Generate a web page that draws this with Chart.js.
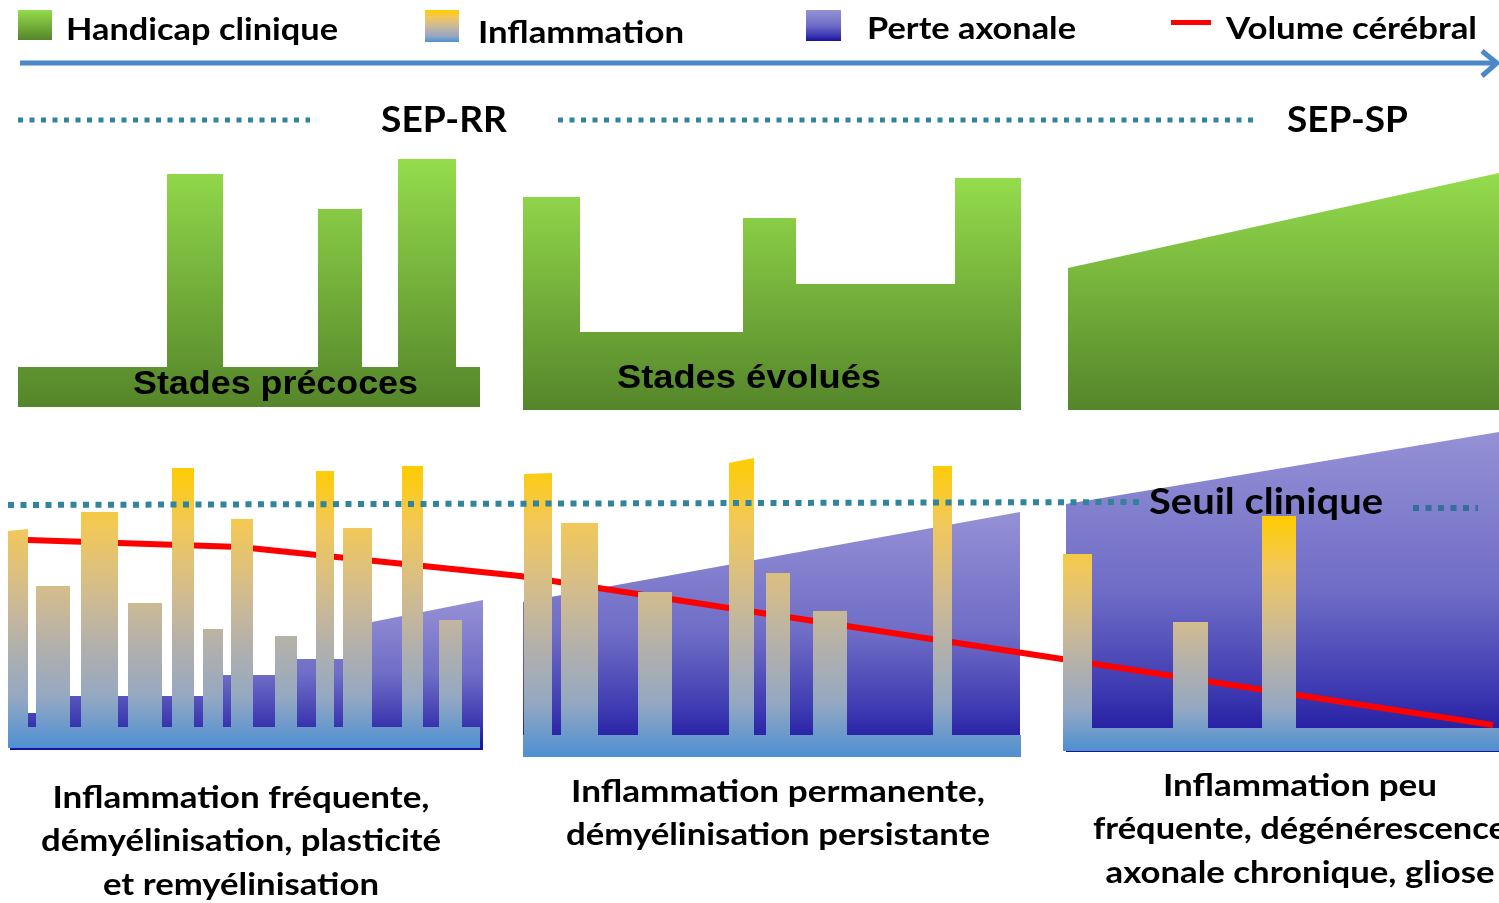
<!DOCTYPE html>
<html lang="fr">
<head>
<meta charset="utf-8">
<title>SEP - évolution</title>
<script src="https://cdn.jsdelivr.net/npm/chart.js@4.4.1/dist/chart.umd.min.js"></script>
<style>
  html, body { margin: 0; padding: 0; background: #fff; overflow: hidden; }
  canvas { display: block; }
</style>
</head>
<body>
<canvas id="sep-chart" width="1499" height="903"></canvas>
<script>
// --- DATA (diagram units: x = course of the disease, y = depth from the top) ---

// Handicap clinique: [left, right, top] steps standing on each stage's base level
const handicapEarly = [[167, 223, 174], [318, 362, 209], [398, 456, 159]];
const handicapLate = [[523, 580, 197], [743, 796, 218], [796, 955, 284], [955, 1021, 178]];
const handicapProgressive = [[1068, 1499, [268, 173]]];
const handicapSpan = [[18, 480], [523, 1021], [1068, 1499]];
const handicapBase = [367, 332, 410];
const handicapFloor = [407, 410, 410];

// Inflammation: bars [left, right, top] (top as [left, right] where it is slanted)
const inflammationEarly = [
  [8, 28, [531, 529]], [36, 70, 586], [81, 118, 512], [128, 162, 603],
  [172, 194, 468], [203, 223, 629], [231, 253, 519], [275, 297, 636],
  [316, 334, 471], [343, 372, 528], [402, 423, 466], [439, 462, 620]
];
const inflammationLate = [
  [524, 552, [474, 473]], [561, 598, 523], [638, 672, 592], [729, 754, [463, 458]],
  [766, 790, 573], [813, 847, 611], [933, 952, 466]
];
const inflammationProgressive = [[1063, 1092, 554], [1173, 1208, 622], [1262, 1296, 516]];
const inflammationSpan = [[8, 480], [523, 1021], [1063, 1499]];
const inflammationBase = [727, 735, 728];
const inflammationFloor = [748, 757, 751];

// Perte axonale: steps, then a rising ramp
const axonalEarly = [[52, 215, 696], [215, 287, 675], [287, 372, 659], [372, 483, [622, 600]]];
const axonalLate = [[523, 1020, [602, 512]]];
const axonalProgressive = [[1066, 1499, [504, 432]]];
const axonalSpan = [[10, 483], [523, 1020], [1066, 1499]];
const axonalBase = [713, null, null];
const axonalFloor = [750, 757, 752];

// Volume cérébral
const brainVolumeX = [28, 240, 520, 1493];
const brainVolumeY = [540, 547, 576, 725];

// Seuil clinique (dotted threshold)
const thresholdX = [8, 1142];
const thresholdY = [505, 502];
const thresholdTailX = [1413, 1478];
const thresholdTailY = [508, 508];

// Time axis and phase lines
const timeAxisX = [20, 1494];
const timeAxisY = 63;
const arrowHeadX = [1482, 1497, 1482];
const arrowHeadY = [51, 63, 76];
const phaseLines = [[18, 310], [558, 1258]];
const phaseLineY = 120;

// Texts
const legendLabels = ['Handicap clinique', 'Inflammation', 'Perte axonale', 'Volume cérébral'];
const phaseLabels = ['SEP-RR', 'SEP-SP'];
const stageLabels = ['Stades précoces', 'Stades évolués'];
const thresholdLabel = 'Seuil clinique';
const stageNotes = [
  ['Inflammation fréquente,', 'démyélinisation, plasticité', 'et remyélinisation'],
  ['Inflammation permanente,', 'démyélinisation persistante'],
  ['Inflammation peu', 'fréquente, dégénérescence', 'axonale chronique, gliose']
];

// --- COLOURS ---
const GREEN_STOPS = [[0, '#94dc4c'], [1, '#55852a']];
const INFLAM_STOPS = [[0, '#ffcc00'], [0.22, '#f2c85a'], [0.45, '#d2bc8e'], [0.64, '#b2b0ac'], [0.82, '#94a8c2'], [1, '#4e8fd2']];
const AXONAL_STOPS = [[0, '#9591d5'], [0.5, '#6e6cc6'], [0.8, '#3f3bb2'], [1, '#19119d']];
const TEAL = '#31849b';
const AXIS_BLUE = '#4a88c8';

// --- HELPERS ---

// turn [left, right, top] pieces into an outline running along the base level
function barsOutline(span, base, bars) {
  const pts = [];
  let last = span[0];
  const push = (x0, x1, top) => {
    const [a, b] = Array.isArray(top) ? top : [top, top];
    pts.push({ x: x0, y: a }, { x: x1, y: b });
  };
  bars.forEach(([l, r, top]) => {
    if (l > last) push(last, l, base);
    push(l, r, top);
    last = r;
  });
  if (span[1] > last) push(last, span[1], base);
  return pts;
}

function verticalGradient(stops, top, bottom) {
  return (context) => {
    const chart = context.chart;
    const y = chart.scales && chart.scales.y;
    const y0 = y ? y.getPixelForValue(top) : NaN;
    const y1 = y ? y.getPixelForValue(bottom) : NaN;
    if (!isFinite(y0) || !isFinite(y1)) return stops[0][1];
    const g = chart.ctx.createLinearGradient(0, y0, 0, y1);
    stops.forEach(([o, c]) => g.addColorStop(o, c));
    return g;
  };
}

function areaDataset(label, points, floor, stops) {
  const top = Math.min(...points.map(p => p.y));
  return {
    label,
    data: points,
    borderWidth: 0,
    borderColor: 'rgba(0,0,0,0)',
    backgroundColor: verticalGradient(stops, top, floor),
    fill: { value: floor },
    pointRadius: 0
  };
}

function lineDataset(label, xs, ys, color, width, dash) {
  return {
    label,
    data: xs.map((x, i) => ({ x, y: Array.isArray(ys) ? ys[i] : ys })),
    borderColor: color,
    borderWidth: width,
    borderDash: dash || [],
    borderCapStyle: 'butt',
    borderJoinStyle: 'miter',
    fill: false,
    pointRadius: 0
  };
}

// --- DATASETS (listed bottom to top) ---
const layers = [];

[handicapEarly, handicapLate, handicapProgressive].forEach((steps, i) => {
  layers.push(areaDataset(legendLabels[0], barsOutline(handicapSpan[i], handicapBase[i], steps), handicapFloor[i], GREEN_STOPS));
});
[axonalEarly, axonalLate, axonalProgressive].forEach((steps, i) => {
  layers.push(areaDataset(legendLabels[2], barsOutline(axonalSpan[i], axonalBase[i], steps), axonalFloor[i], AXONAL_STOPS));
});
layers.push(lineDataset(legendLabels[3], brainVolumeX, brainVolumeY, '#ff0000', 6));
[inflammationEarly, inflammationLate, inflammationProgressive].forEach((bars, i) => {
  layers.push(areaDataset(legendLabels[1], barsOutline(inflammationSpan[i], inflammationBase[i], bars), inflammationFloor[i], INFLAM_STOPS));
});
layers.push(lineDataset(thresholdLabel, thresholdX, thresholdY, TEAL, 6, [6, 6.5]));
layers.push(lineDataset(thresholdLabel, thresholdTailX, thresholdTailY, '#336f97', 6, [6, 6.5]));
phaseLines.forEach(xs => layers.push(lineDataset('phase', xs, phaseLineY, TEAL, 5, [5, 6.5])));
layers.push(lineDataset('temps', timeAxisX, timeAxisY, AXIS_BLUE, 5));
layers.push(lineDataset('temps', arrowHeadX, arrowHeadY, AXIS_BLUE, 5));

// Chart.js draws the first dataset on top
const datasets = layers.slice().reverse();

// --- TEXT PLUGIN ---
function fitText(ctx, str, x, baseline, width, font, align) {
  ctx.font = font;
  const k = width / ctx.measureText(str).width;
  ctx.save();
  ctx.translate(align === 'center' ? x - width / 2 : x, baseline);
  ctx.scale(k, 1);
  ctx.textAlign = 'left';
  ctx.textBaseline = 'alphabetic';
  ctx.fillText(str, 0, 0);
  ctx.restore();
}

function swatch(ctx, x, y, w, h, stops) {
  const g = ctx.createLinearGradient(0, y, 0, y + h);
  stops.forEach(([o, c]) => g.addColorStop(o, c));
  ctx.fillStyle = g;
  ctx.fillRect(x, y, w, h);
}

const textPlugin = {
  id: 'sepTexts',
  afterDatasetsDraw(chart) {
    const ctx = chart.ctx;
    const sx = v => chart.scales.x.getPixelForValue(v);
    const sy = v => chart.scales.y.getPixelForValue(v);
    const uiFont = s => `bold ${s}px Lato, "Open Sans", sans-serif`;
    const arialBold = s => `bold ${s}px "Liberation Sans", Arial, sans-serif`;

    // legend
    swatch(ctx, sx(18), sy(10), 34, 30, GREEN_STOPS);
    swatch(ctx, sx(425), sy(10), 34, 32, INFLAM_STOPS);
    swatch(ctx, sx(806), sy(10), 35, 31, AXONAL_STOPS);
    ctx.fillStyle = '#ff0000';
    ctx.fillRect(sx(1171), sy(20), 40, 5);

    ctx.fillStyle = '#000';
    fitText(ctx, legendLabels[0], sx(66), sy(40), 272, uiFont(30));
    fitText(ctx, legendLabels[1], sx(478), sy(43), 206, uiFont(30));
    fitText(ctx, legendLabels[2], sx(867), sy(39), 209, uiFont(30));
    fitText(ctx, legendLabels[3], sx(1226), sy(39), 251, uiFont(30));

    // phases
    fitText(ctx, phaseLabels[0], sx(381), sy(132), 126, uiFont(37));
    fitText(ctx, phaseLabels[1], sx(1287), sy(132), 121, uiFont(37));

    // stages
    fitText(ctx, stageLabels[0], sx(275.5), sy(394), 285, arialBold(34), 'center');
    fitText(ctx, stageLabels[1], sx(749), sy(388), 264, arialBold(34), 'center');

    // threshold
    fitText(ctx, thresholdLabel, sx(1149), sy(514), 234, uiFont(37));

    // notes under each stage
    const notes = [
      { cx: 241, lines: [[808, 377], [851, 400], [895, 276]] },
      { cx: 778, lines: [[802, 414], [845, 424]] },
      { cx: 1300, lines: [[796, 274], [839, 414], [883, 389]] }
    ];
    notes.forEach((n, i) => {
      n.lines.forEach(([base, w], j) => {
        fitText(ctx, stageNotes[i][j], sx(n.cx), sy(base), w, uiFont(31), 'center');
      });
    });
  }
};

// --- CHART ---
new Chart(document.getElementById('sep-chart'), {
  type: 'line',
  data: { datasets },
  options: {
    responsive: false,
    animation: false,
    layout: { padding: 0 },
    elements: { line: { tension: 0 }, point: { radius: 0 } },
    plugins: { legend: { display: false }, tooltip: { enabled: false } },
    scales: {
      x: { type: 'linear', min: 0, max: 1499, display: false },
      y: { type: 'linear', min: 0, max: 903, reverse: true, display: false }
    }
  },
  plugins: [textPlugin]
});
</script>
</body>
</html>
